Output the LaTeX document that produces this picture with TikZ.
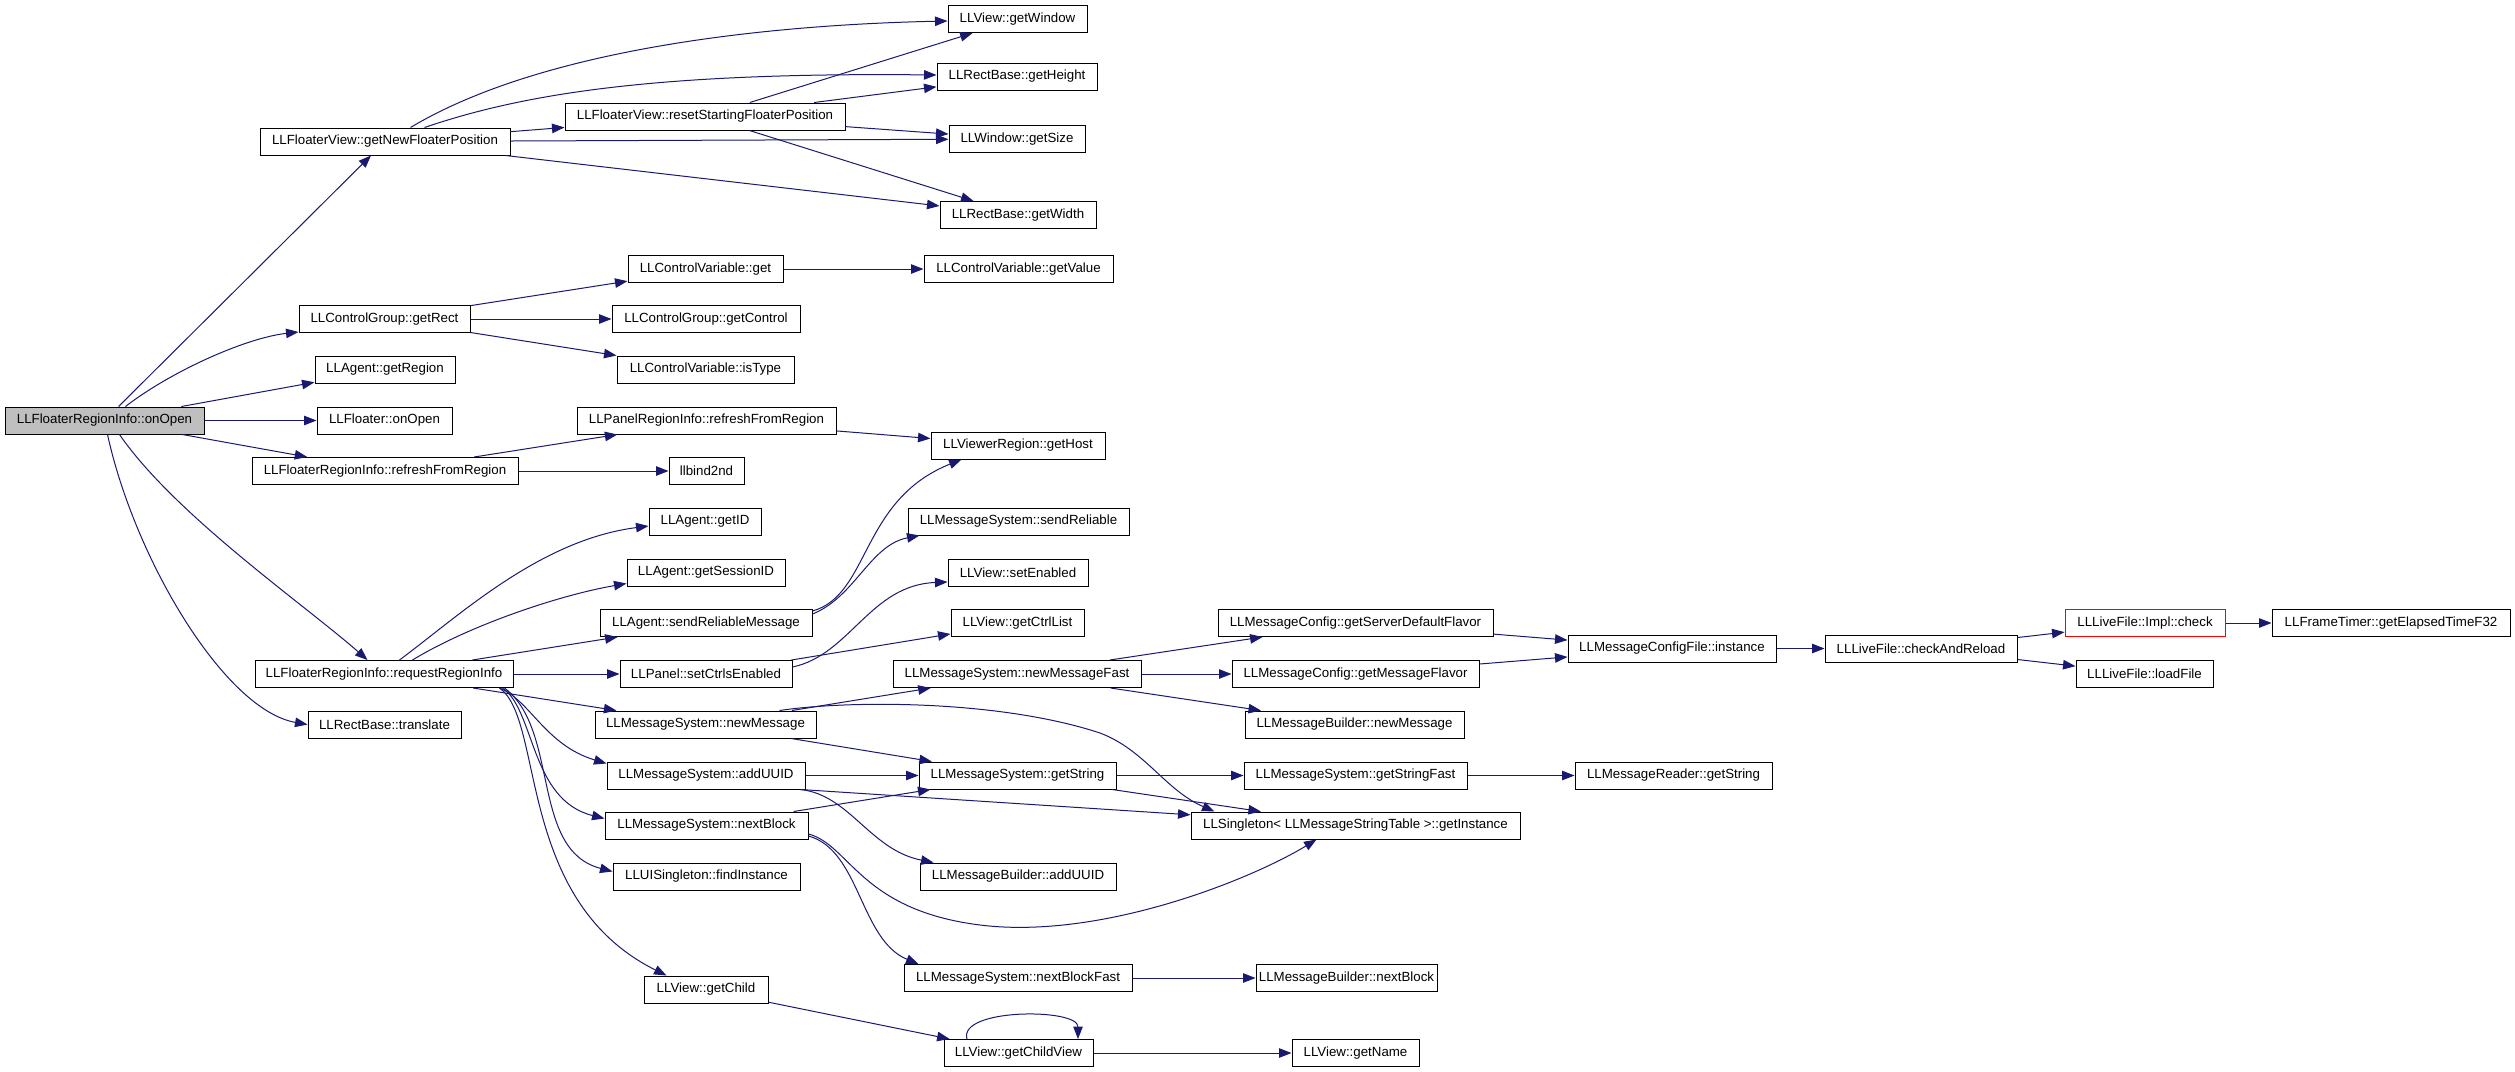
\documentclass[tikz,border=0pt]{standalone}
\usepackage{fontspec}
\setmainfont{Liberation Sans}
\usetikzlibrary{arrows.meta,calc}
\definecolor{edgeblue}{RGB}{25,25,112}
\definecolor{greyfill}{RGB}{191,191,191}
\tikzset{
  box/.style={draw=black, line width=1pt, fill=white, minimum height=27pt, inner sep=0pt,
    font=\fontsize{13.3}{16}\selectfont},
  rootbox/.style={box, fill=greyfill},
  redbox/.style={box, draw=red},
  e/.style={draw=edgeblue, line width=1pt, -{Triangle[length=12.5pt,width=9.5pt]}}
}
\begin{document}
\begin{tikzpicture}[x=1pt,y=-1pt]
\useasboundingbox (0,0) rectangle (2515,1071);
% column 1
\node[rootbox,minimum width=199pt] (A) at (104.5,420.5) {LLFloaterRegionInfo::onOpen};
% column 2
\node[box,minimum width=250pt] (B) at (385,141.5) {LLFloaterView::getNewFloaterPosition};
\node[box,minimum width=171pt] (C) at (384.5,319) {LLControlGroup::getRect};
\node[box,minimum width=140pt] (D) at (385,369.5) {LLAgent::getRegion};
\node[box,minimum width=135pt] (E) at (384.5,420.5) {LLFloater::onOpen};
\node[box,minimum width=266pt] (F) at (385,471) {LLFloaterRegionInfo::refreshFromRegion};
\node[box,minimum width=258pt] (G) at (384,674) {LLFloaterRegionInfo::requestRegionInfo};
\node[box,minimum width=153pt] (H) at (384.5,724.5) {LLRectBase::translate};
% column 3
\node[box,minimum width=280pt] (R) at (705,116.5) {LLFloaterView::resetStartingFloaterPosition};
\node[box,minimum width=155pt] (cvget) at (705.5,269) {LLControlVariable::get};
\node[box,minimum width=188pt] (gctrl) at (706,319) {LLControlGroup::getControl};
\node[box,minimum width=177pt] (istype) at (705.5,369.5) {LLControlVariable::isType};
\node[box,minimum width=259pt] (prefresh) at (706.5,420.5) {LLPanelRegionInfo::refreshFromRegion};
\node[box,minimum width=75pt] (bind) at (706.5,471) {llbind2nd};
\node[box,minimum width=112pt] (gid) at (705,521.5) {LLAgent::getID};
\node[box,minimum width=158pt] (gsid) at (706,572.5) {LLAgent::getSessionID};
\node[box,minimum width=212pt] (srm) at (706,623) {LLAgent::sendReliableMessage};
\node[box,minimum width=172pt] (sce) at (706,674) {LLPanel::setCtrlsEnabled};
\node[box,minimum width=221pt] (nmsg) at (705.5,724.5) {LLMessageSystem::newMessage};
\node[box,minimum width=198pt] (adduuid) at (706,775.5) {LLMessageSystem::addUUID};
\node[box,minimum width=203pt] (nblock) at (706.5,825.5) {LLMessageSystem::nextBlock};
\node[box,minimum width=187pt] (finst) at (706.5,876.5) {LLUISingleton::findInstance};
\node[box,minimum width=124pt] (gchild) at (706,989.5) {LLView::getChild};
% column 4
\node[box,minimum width=139pt] (gwin) at (1017.5,19) {LLView::getWindow};
\node[box,minimum width=160pt] (ghgt) at (1017,76.5) {LLRectBase::getHeight};
\node[box,minimum width=136pt] (gsize) at (1017,139) {LLWindow::getSize};
\node[box,minimum width=156pt] (gwid) at (1018,215) {LLRectBase::getWidth};
\node[box,minimum width=189pt] (gval) at (1018.5,269) {LLControlVariable::getValue};
\node[box,minimum width=174pt] (ghost) at (1018,445.5) {LLViewerRegion::getHost};
\node[box,minimum width=221pt] (srel) at (1018.5,521.5) {LLMessageSystem::sendReliable};
\node[box,minimum width=140pt] (senab) at (1018,572.5) {LLView::setEnabled};
\node[box,minimum width=133pt] (gcl) at (1017.5,623) {LLView::getCtrlList};
\node[box,minimum width=248pt] (nmf) at (1017,674) {LLMessageSystem::newMessageFast};
\node[box,minimum width=197pt] (gstr) at (1017.5,775.5) {LLMessageSystem::getString};
\node[box,minimum width=196pt] (mbadd) at (1018,876.5) {LLMessageBuilder::addUUID};
\node[box,minimum width=228pt] (nbf) at (1018,978) {LLMessageSystem::nextBlockFast};
\node[box,minimum width=149pt] (gcv) at (1018.5,1053) {LLView::getChildView};
% column 5
\node[box,minimum width=275pt] (gsdf) at (1355.5,623) {LLMessageConfig::getServerDefaultFlavor};
\node[box,minimum width=247pt] (gmf) at (1355.5,674) {LLMessageConfig::getMessageFlavor};
\node[box,minimum width=219pt] (mbnm) at (1354.5,724.5) {LLMessageBuilder::newMessage};
\node[box,minimum width=223pt] (gsf) at (1355.5,775.5) {LLMessageSystem::getStringFast};
\node[box,minimum width=329pt] (single) at (1355.5,825.5) {LLSingleton< LLMessageStringTable >::getInstance};
\node[box,minimum width=181pt] (mbnb) at (1346.5,978) {LLMessageBuilder::nextBlock};
\node[box,minimum width=127pt] (gname) at (1355.5,1053) {LLView::getName};
% columns 6-9
\node[box,minimum width=208pt] (mcf) at (1672,648.5) {LLMessageConfigFile::instance};
\node[box,minimum width=197pt] (mrgs) at (1673.5,775.5) {LLMessageReader::getString};
\node[box,minimum width=192pt] (car) at (1921,648.5) {LLLiveFile::checkAndReload};
\node[redbox,minimum width=160pt] (check) at (2145,623) {LLLiveFile::Impl::check};
\node[box,minimum width=137pt] (loadf) at (2144.5,674) {LLLiveFile::loadFile};
\node[box,minimum width=238pt] (elapsed) at (2391,623) {LLFrameTimer::getElapsedTimeF32};

% ---- straight edges
\draw[e] (A) -- (B);
\draw[e] (A) -- (D);
\draw[e] (A) -- (E);
\draw[e] (A) -- (F);
\draw[e] (B) -- (R);
\draw[e] (B) -- (gsize);
\draw[e] (B) -- (gwid);
\draw[e] (R) -- (gwin);
\draw[e] (R) -- (ghgt);
\draw[e] (R) -- (gsize);
\draw[e] (R) -- (gwid);
\draw[e] (C) -- (cvget);
\draw[e] (C) -- (gctrl);
\draw[e] (C) -- (istype);
\draw[e] (cvget) -- (gval);
\draw[e] (F) -- (prefresh);
\draw[e] (F) -- (bind);
\draw[e] (prefresh) -- (ghost);
\draw[e] (G) -- (srm);
\draw[e] (G) -- (sce);
\draw[e] (G) -- (nmsg);
\draw[e] (sce) -- (gcl);
\draw[e] (nmsg) -- (nmf);
\draw[e] (nmsg) -- (gstr);
\draw[e] (nmf) -- (gsdf);
\draw[e] (nmf) -- (gmf);
\draw[e] (nmf) -- (mbnm);
\draw[e] (adduuid) -- (gstr);
\draw[e] ($(adduuid.south east)+(-5,0)$) -- (single);
\draw[e] (gstr) -- (gsf);
\draw[e] (gstr) -- (single);
\draw[e] (nblock) -- (gstr);
\draw[e] (nbf) -- (mbnb);
\draw[e] (gchild) -- (gcv);
\draw[e] (gcv) -- (gname);
\draw[e] (gsf) -- (mrgs);
\draw[e] (gsdf) -- (mcf);
\draw[e] (gmf) -- (mcf);
\draw[e] (mcf) -- (car);
\draw[e] (car) -- (check);
\draw[e] (car) -- (loadf);
\draw[e] (check) -- (elapsed);

% ---- curved edges
\draw[e] ($(A.north west)+(121,0)$) .. controls (170,372) and (245,338) .. ($(C.south west)+(0,-1)$);
\draw[e] ($(A.south west)+(115,0)$) .. controls (175,515) and (305,605) .. ($(G.north west)+(113,0)$);
\draw[e] ($(A.south west)+(103,0)$) .. controls (135,560) and (225,710) .. (H.west);
\draw[e] ($(B.north west)+(151,0)$) .. controls (540,50) and (760,25) .. ($(gwin.west)+(0,2)$);
\draw[e] ($(B.north west)+(165,0)$) .. controls (520,95) and (650,72) .. ($(ghgt.west)+(0,-1.5)$);
\draw[e] ($(G.north west)+(145,0)$) .. controls (460,615) and (540,540) .. ($(gid.west)+(0,4.5)$);
\draw[e] ($(G.north west)+(158,0)$) .. controls (470,625) and (560,595) .. ($(gsid.south west)+(0,-3)$);
\draw[e] ($(G.south west)+(245,0)$) .. controls (530,700) and (545,745) .. ($(adduuid.north west)+(0,2)$);
\draw[e] ($(G.south west)+(248,0)$) .. controls (535,710) and (530,800) .. ($(nblock.west)+(0,-7)$);
\draw[e] ($(G.south west)+(250,0)$) .. controls (560,730) and (530,850) .. ($(finst.west)+(0,-5)$);
\draw[e] ($(G.south west)+(245,0)$) .. controls (545,720) and (515,900) .. ($(gchild.north west)+(23,0)$);
\draw[e] ($(srm.north east)+(0,2)$) .. controls (870,595) and (860,500) .. ($(ghost.south west)+(31,0)$);
\draw[e] ($(srm.east)+(0,-9)$) .. controls (855,597) and (870,545) .. ($(srel.south west)+(12,0)$);
\draw[e] ($(sce.east)+(0,-7)$) .. controls (850,655) and (870,585) .. ($(senab.west)+(0,9.5)$);
\draw[e] ($(nmsg.north west)+(185,0)$) .. controls (850,700) and (1000,700) .. (1100,733)
   .. controls (1145,750) and (1165,790) .. ($(single.north west)+(24,0)$);
\draw[e] ($(adduuid.south east)+(-5,0)$) .. controls (850,795) and (870,850) .. ($(mbadd.north west)+(14,0)$);
\draw[e] ($(nblock.east)+(0,8.5)$) .. controls (850,845) and (860,910) .. (980,925)
   .. controls (1100,940) and (1250,880) .. ($(single.south west)+(126,0)$);
\draw[e] ($(nblock.east)+(0,10.5)$) .. controls (860,850) and (860,940) .. ($(nbf.north west)+(15,0)$);
\draw[e] ($(gcv.north)+(-51.5,0)$) .. controls (958,1008) and (1078,1008) .. ($(gcv.north)+(59.5,0)$);
\end{tikzpicture}
\end{document}
